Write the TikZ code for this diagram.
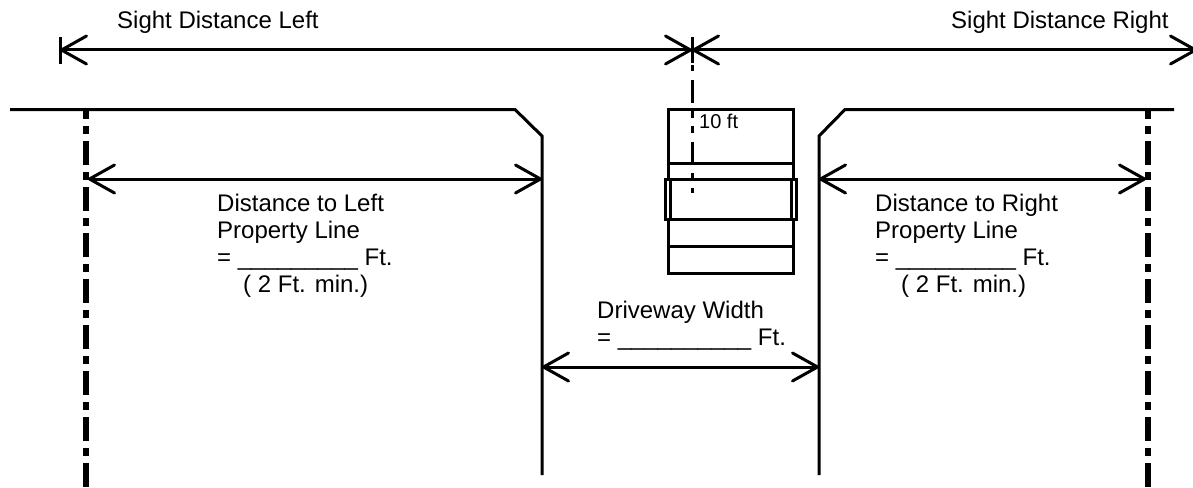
\documentclass[tikz,border=0pt]{standalone}
\usepackage{fontspec}
\setmainfont{Liberation Sans}
\usetikzlibrary{arrows.meta,positioning}
\tikzset{
  dimline/.style   = {line width=3pt, draw=black},
  wallline/.style  = {line width=3pt, draw=black},
  propline/.style  = {line width=6pt, draw=black,
                      dash pattern=on 24pt off 7pt on 8pt off 7pt, dash phase=15pt},
  centline/.style  = {line width=3pt, draw=black,
                      dash pattern=on 23pt off 8pt on 7pt off 8pt on 7pt off 9pt, dash phase=47pt},
  vehicle/.style   = {line width=3pt, draw=black},
  label/.style     = {inner sep=0pt, align=left, anchor=base west,
                      font=\fontsize{24}{26.7}\selectfont},
  smalllabel/.style= {inner sep=0pt, anchor=base west,
                      font=\fontsize{20}{22}\selectfont}
}
\begin{document}
\begin{tikzpicture} [x=1pt,y=-1pt,
   >={Straight Barb[length=25pt,width=28pt,round]}]
\useasboundingbox (0,0) rectangle (1193,487);
\coordinate (sightL) at (60,50);
\coordinate (sightC) at (692,50);
\coordinate (sightR) at (1197,50);
\coordinate (tickLa) at (60,37);
\coordinate (tickLb) at (60,64);
\coordinate (tickCa) at (692,37);
\coordinate (tickCb) at (692,63);
\coordinate (centEnd) at (692,193);
\coordinate (centTop) at (692,65);
\coordinate (propL)  at (88,179);
\coordinate (propR)  at (1146,179);
\coordinate (curbL)  at (542,179);
\coordinate (curbR)  at (819,179);
\coordinate (driveL) at (542,367);
\coordinate (driveR) at (819,367);
\draw[dimline,<->] (sightL) -- (sightC);
\draw[dimline,<->] (sightC) -- (sightR);
\draw[dimline] (tickLa) -- (tickLb);
\draw[dimline] (tickCa) -- (tickCb);
\draw[dimline,<->] (propL) -- (curbL);
\draw[dimline,<->] (curbR) -- (propR);
\draw[dimline,<->] (driveL) -- (driveR);
\draw[wallline] (10,109.5) -- (515,109.5) -- (542,136) -- (542,475);
\draw[wallline] (1174,109.5) -- (845,109.5) -- (819,136) -- (819,475);
\draw[propline] (86,110) -- (86,487);
\draw[propline] (1148,110) -- (1148,487);
\draw[vehicle] (668.5,109.7) rectangle (793,273);
\draw[vehicle] (668.5,163.7) -- (793,163.7);
\draw[vehicle] (668.5,246) -- (793,246);
\draw[vehicle,fill=white] (665,179.5) rectangle (796,219.5);
\draw[vehicle] (670,179.5) -- (670,219.5);
\draw[vehicle] (791,179.5) -- (791,219.5);
\draw[centline] (centTop) -- (centEnd);
\node[label] (sightleft) at (117,29) {Sight Distance Left};
\node[label] (sightright) at (951,29) {Sight Distance Right};
\node[label] (leftdist) at (217,292) {Distance to Left\\Property Line\\= \_\_\_\_\_\_\_\_\_ Ft.\\\hspace*{26pt}( 2 Ft. min.)};
\node[label] (rightdist) at (875,292) {Distance to Right\\Property Line\\= \_\_\_\_\_\_\_\_\_ Ft.\\\hspace*{26pt}( 2 Ft. min.)};
\node[label] (drivewidth) at (597,345.5) {Driveway Width\\= \_\_\_\_\_\_\_\_\_\_ Ft.};
\node[smalllabel] (tenft) at (699,128) {10 ft};
\end{tikzpicture}
\end{document}
